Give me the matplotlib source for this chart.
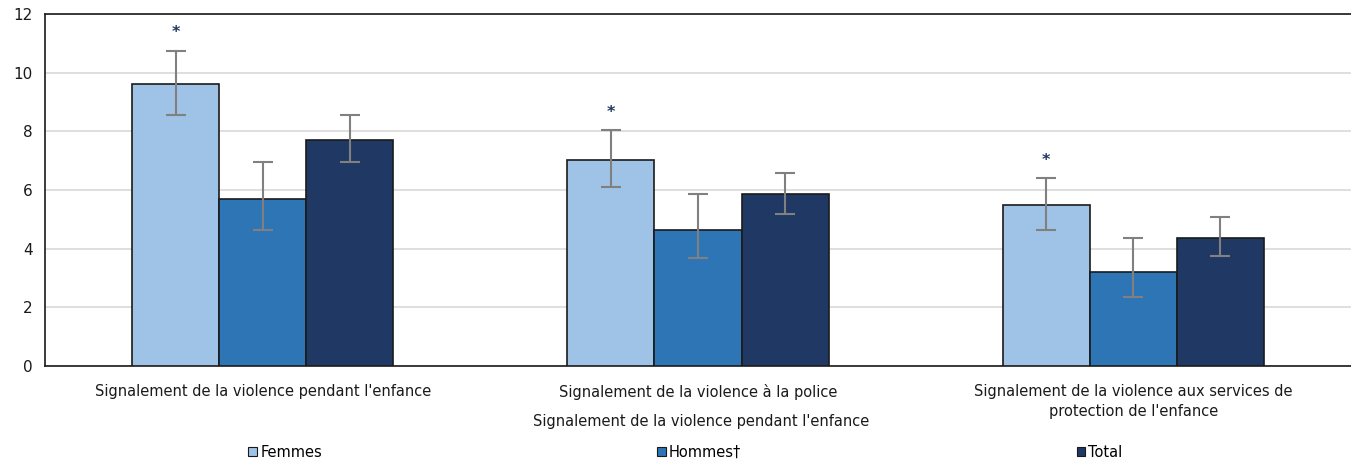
import matplotlib
matplotlib.use("Agg")
import matplotlib.pyplot as plt
import numpy as np
from matplotlib.patches import Patch

categories = ["Signalement de la violence pendant l'enfance",
              "Signalement de la violence à la police",
              "Signalement de la violence aux services de\nprotection de l'enfance"]
series_names = ["Femmes", "Hommes†", "Total"]
femmes = [9.6, 7.02, 5.49]
hommes = [5.7, 4.64, 3.2]
total = [7.7, 5.86, 4.36]
femmes_lo = [8.55, 6.1, 4.64]
femmes_hi = [10.75, 8.05, 6.41]
hommes_lo = [4.65, 3.68, 2.35]
hommes_hi = [6.95, 5.86, 4.36]
total_lo = [6.95, 5.18, 3.75]
total_hi = [8.55, 6.58, 5.08]
significant = ["*", "*", "*"]
x_title = "Signalement de la violence pendant l'enfance"
y_ticks = [0, 2, 4, 6, 8, 10, 12]

colors = ["#9fc3e6", "#2e75b6", "#203864"]

plt.rcParams['font.family'] = ['DejaVu Sans']
fig = plt.figure(figsize=(13.51, 4.61), dpi=100)
ax = fig.add_axes([45/1351, 1 - 366/461, 1306/1351, 352/461])

x = np.arange(len(categories))
w = 0.2
vals = [femmes, hommes, total]
los = [femmes_lo, hommes_lo, total_lo]
his = [femmes_hi, hommes_hi, total_hi]
for i, (v, lo, hi) in enumerate(zip(vals, los, his)):
    pos = x + (i - 1) * w
    v = np.array(v); lo = np.array(lo); hi = np.array(hi)
    ax.bar(pos, v, width=w, color=colors[i], edgecolor="#1a1a1a", linewidth=1.2, zorder=3)
    ax.errorbar(pos, v, yerr=[v - lo, hi - v], fmt="none", ecolor="#808080",
                elinewidth=1.5, capsize=7, capthick=1.5, zorder=4)

for j, s in enumerate(significant):
    ax.text(x[j] - w, femmes_hi[j] + 0.35, s, ha="center", va="bottom",
            fontsize=11.5, color="#203864", fontweight="bold")

ax.set_xlim(-0.5, 2.5)
ax.set_ylim(0, 12)
ax.set_yticks(y_ticks)
ax.set_yticklabels([str(t) for t in y_ticks], fontsize=11, color="#1a1a1a")
ax.yaxis.grid(True, color="#d9d9d9", linewidth=1.2, zorder=0)
ax.set_axisbelow(True)
ax.tick_params(axis="y", length=0, pad=9)
ax.tick_params(axis="x", length=0, pad=13)
ax.set_xticks(x)
ax.set_xticklabels(categories, fontsize=10.5, color="#1a1a1a", linespacing=1.45)
for s in ["left", "top", "bottom"]:
    ax.spines[s].set_color("#1a1a1a")
    ax.spines[s].set_linewidth(1.2)
ax.spines["right"].set_visible(False)

fig.text(701/1351, 1 - 421/461, x_title, ha="center", va="center",
         fontsize=10.5, color="#1a1a1a")

handles = [Patch(facecolor=c, edgecolor="#1a1a1a", linewidth=0.8) for c in colors]
fig.legend(handles, series_names, loc="center", bbox_to_anchor=(0.5 + 10/1351, 1 - 452/461),
           ncol=3, frameon=False, fontsize=10.5, handlelength=0.6, handleheight=0.6,
           handletextpad=0.2, columnspacing=23)

fig.savefig("out.png", dpi=100)
